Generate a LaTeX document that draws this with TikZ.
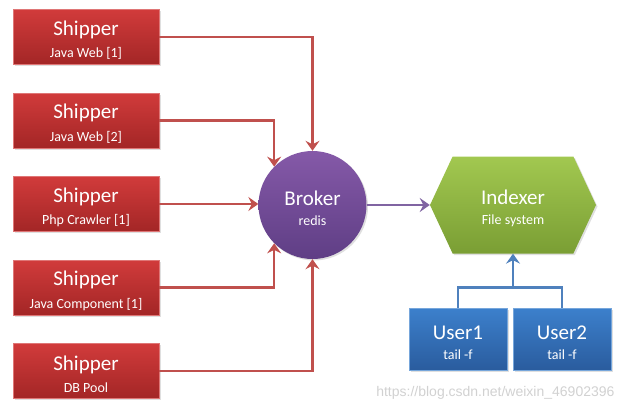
\documentclass[tikz,border=0pt]{standalone}
\usepackage{fontspec}
\setmainfont{Carlito}
\usetikzlibrary{positioning,calc,arrows.meta,shapes.symbols,shadows}

\definecolor{shiptop}{HTML}{D13B3B}
\definecolor{shipbot}{HTML}{A32626}
\definecolor{shipline}{HTML}{C0504D}
\definecolor{brokertop}{HTML}{8559A8}
\definecolor{brokerbot}{HTML}{5F3E85}
\definecolor{brokerline}{HTML}{8064A2}
\definecolor{indextop}{HTML}{A2C850}
\definecolor{indexbot}{HTML}{7A9E34}
\definecolor{usertop}{HTML}{3C80CC}
\definecolor{userbot}{HTML}{2A5C9E}
\definecolor{userline}{HTML}{4F81BD}

% title and subtitle inside a shape
\newcommand{\twolines}[2]{{\fontsize{21}{23}\selectfont\rule{0pt}{21pt}#1}\\[8pt]{\fontsize{14}{15}\selectfont #2}}

\begin{document}
\begin{tikzpicture}[x=1pt,y=-1pt,
    shipbox/.style={rectangle, minimum width=146pt, minimum height=55pt,
      inner sep=0pt, align=center, text=white, top color=shiptop,
      bottom color=shipbot, draw=shiptop!70!white, line width=0.6pt,
      drop shadow={opacity=0.25, shadow xshift=1.5pt, shadow yshift=-1.5pt}},
    userbox/.style={shipbox, minimum width=98pt, minimum height=62pt,
      top color=usertop, bottom color=userbot, draw=usertop!70!white},
    link/.style={line width=2.5pt, -{Stealth[length=10pt,width=14pt,inset=3.5pt]}}]
    \useasboundingbox (0,0) rectangle (627,410);

    % the shippers on the left
    \foreach \i/\ypos/\what in {1/37/Java Web [1], 2/120.5/Java Web [2],
        3/204/Php Crawler [1], 4/287.5/Java Component [1], 5/371/DB Pool}
      \node[shipbox] (ship\i) at (86, \ypos) {\twolines{Shipper}{\what}};

    % broker and indexer
    \node[circle, minimum size=108pt, inner sep=0pt, align=center, text=white,
      top color=brokertop, bottom color=brokerbot,
      drop shadow={opacity=0.25, shadow xshift=1.5pt, shadow yshift=-1.5pt}]
      (broker) at (312.5, 205) {\twolines{Broker}{redis}};
    \node[signal, signal to=west and east, signal pointer angle=130,
      minimum width=166pt, minimum height=97pt, inner sep=0pt, align=center,
      text=white, top color=indextop, bottom color=indexbot,
      drop shadow={opacity=0.25, shadow xshift=1.5pt, shadow yshift=-1.5pt}]
      (indexer) at (513, 205) {\twolines{Indexer}{File system}};

    % the users
    \node[userbox] (user1) at (458, 339) {\twolines{User1}{tail -f}};
    \node[userbox] (user2) at (562, 339) {\twolines{User2}{tail -f}};

    % shippers into the broker
    \draw[link, shipline] (ship1.east) -| (broker.north);
    \draw[link, shipline] (ship2.east) -| (broker.north west);
    \draw[link, shipline] (ship3.east) -- (broker.west |- ship3.east);
    \draw[link, shipline] (ship4.east) -| (broker.south west);
    \draw[link, shipline] (ship5.east) -| (broker.south);

    % broker to indexer
    \draw[link, brokerline] (broker.east) -- (indexer.west);

    % users read from the indexer
    \coordinate (join) at ($(indexer.south)+(0,34)$);
    \draw[line width=2.5pt, userline] (user1.north) |- (user2.north |- join) -- (user2.north);
    \draw[link, userline] (join) -- (indexer.south);

    % watermark
    \node[text=black!18, font=\fontspec{Liberation Sans}\fontsize{14}{16}\selectfont,
      anchor=east] (mark) at (618, 393) {https://blog.csdn.net/weixin\_46902396};
\end{tikzpicture}
\end{document}
